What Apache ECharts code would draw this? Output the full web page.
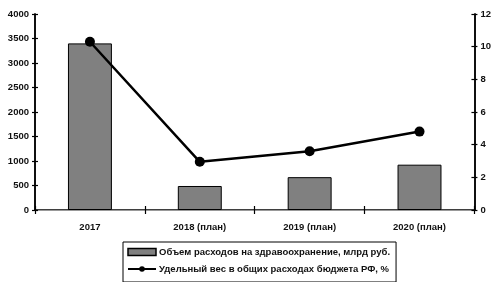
<!DOCTYPE html>
<html><head><meta charset="utf-8">
<script src="https://cdn.jsdelivr.net/npm/echarts@6/dist/echarts.min.js"></script>
<style>html,body{margin:0;padding:0;background:#fff}#c{width:494px;height:282px}</style>
</head><body><div id="c"></div>
<script>
const categories = ['2017', '2018 (план)', '2019 (план)', '2020 (план)'];
const spending = [3400, 490, 670, 925];
const share = [10.3, 2.95, 3.6, 4.8];
const leftTicks = [0, 500, 1000, 1500, 2000, 2500, 3000, 3500, 4000];
const rightTicks = [0, 2, 4, 6, 8, 10, 12];
const barName = 'Объем расходов на здравоохранение, млрд руб.';
const lineName = 'Удельный вес в общих расходах бюджета РФ, %';

const font = 'Liberation Sans';
const lab = {color: '#111', fontFamily: font, fontWeight: 'bold', fontSize: 9.5};
const chart = echarts.init(document.getElementById('c'));
function yAx(pos, max, interval, inside, labels) {
  return {type: 'value', position: pos, min: 0, max: max, interval: interval,
    axisLine: {show: true, lineStyle: {color: '#000', width: 1.5}},
    axisTick: {show: true, inside: inside, length: 3, lineStyle: {color: '#000', width: 1.2}},
    axisLabel: labels ? Object.assign({margin: 6, formatter: v => String(v)}, lab) : {show: false},
    splitLine: {show: false}};
}
chart.setOption({
  animation: false,
  grid: {left: 35, right: 18, top: 14, bottom: 72},
  xAxis: [{type: 'category', data: categories, boundaryGap: true,
    axisLine: {lineStyle: {color: '#000', width: 1.5}},
    axisTick: {show: true, length: 4, inside: false, lineStyle: {color: '#000', width: 1.2}},
    axisLabel: Object.assign({margin: 12}, lab)},
   {type: 'category', data: categories, position: 'top',
    axisLine: {show: true, lineStyle: {color: '#999', width: 1}},
    axisTick: {show: false}, axisLabel: {show: false}},
   {type: 'category', data: categories, position: 'bottom',
    axisLine: {show: false},
    axisTick: {show: true, length: 4, inside: true, lineStyle: {color: '#000', width: 1.2}},
    axisLabel: {show: false}}],
  yAxis: [yAx('left', 4000, 500, false, true), yAx('right', 12, 2, false, true),
          yAx('left', 4000, 500, true, false), yAx('right', 12, 2, true, false)],
  legend: {orient: 'vertical', left: 123, top: 242, width: 272,
    itemGap: 7, itemWidth: 28, itemHeight: 7,
    borderColor: '#000', borderWidth: 1, padding: [5, 6, 8, 4],
    textStyle: {color: '#111', fontFamily: font, fontWeight: 'bold', fontSize: 9.5, padding: [0, 0, 0, -2]},
    data: [{name: barName, icon: 'rect', itemStyle: {borderWidth: 1.5}}, {name: lineName}]},
  series: [
    {name: barName, type: 'bar', data: spending, barWidth: '40%', xAxisIndex: 0, yAxisIndex: 0,
     itemStyle: {color: '#808080', borderColor: '#000', borderWidth: 1}},
    {name: lineName, type: 'line', data: share, xAxisIndex: 0, yAxisIndex: 1,
     symbol: 'circle', symbolSize: 10,
     lineStyle: {color: '#000', width: 2.5}, itemStyle: {color: '#000'}}
  ]
});
</script></body></html>
